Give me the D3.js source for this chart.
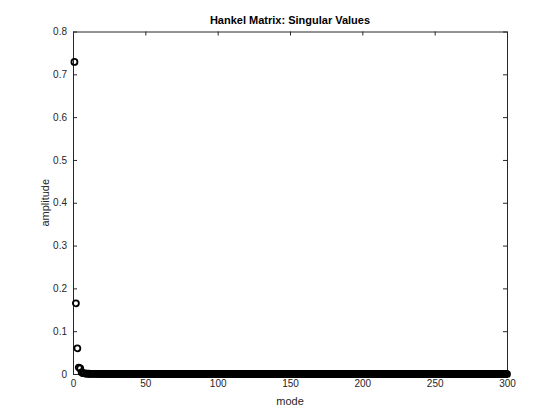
<!DOCTYPE html>
<html>
<head>
<meta charset="utf-8">
<script src="https://cdn.jsdelivr.net/npm/d3@7"></script>
<style>
  body { margin: 0; background: #fff; }
  text { font-family: "Liberation Sans", Arial, sans-serif; }
</style>
</head>
<body>
<div id="chart"></div>
<script>
// singular values of the Hankel matrix, one per mode (1..300)
const leadValues = [0.729, 0.165, 0.060, 0.015, 0.013, 0.004, 0.002, 0.0015, 0.001, 0.0008];
const tailValues = [
  0.0006, 0.0005, 0.0004, 0.0004, 0.0003, 0.0003, 0.0003, 0.0002, 0.0002, 0.0002,
  0.0002, 0.0002, 0.0001, 0.0001, 0.0001, 0.0001, 0.0001, 0.0001, 0.0001, 0.0001,
  0.0001, 0.0001, 0.0001, 0.0001, 0.0001, 0.0001, 0.0001, 0.0001, 0.0001, 0.0001,
  0.0001, 0.0001, 0.0001, 0.0001, 0.0001, 0.0001, 0.0001, 0.0001, 0.0001, 0.0001,
  0, 0, 0, 0, 0, 0, 0, 0, 0, 0, 0, 0, 0, 0, 0, 0, 0, 0, 0, 0,
  0, 0, 0, 0, 0, 0, 0, 0, 0, 0, 0, 0, 0, 0, 0, 0, 0, 0, 0, 0,
  0, 0, 0, 0, 0, 0, 0, 0, 0, 0, 0, 0, 0, 0, 0, 0, 0, 0, 0, 0,
  0, 0, 0, 0, 0, 0, 0, 0, 0, 0, 0, 0, 0, 0, 0, 0, 0, 0, 0, 0,
  0, 0, 0, 0, 0, 0, 0, 0, 0, 0, 0, 0, 0, 0, 0, 0, 0, 0, 0, 0,
  0, 0, 0, 0, 0, 0, 0, 0, 0, 0, 0, 0, 0, 0, 0, 0, 0, 0, 0, 0,
  0, 0, 0, 0, 0, 0, 0, 0, 0, 0, 0, 0, 0, 0, 0, 0, 0, 0, 0, 0,
  0, 0, 0, 0, 0, 0, 0, 0, 0, 0, 0, 0, 0, 0, 0, 0, 0, 0, 0, 0,
  0, 0, 0, 0, 0, 0, 0, 0, 0, 0, 0, 0, 0, 0, 0, 0, 0, 0, 0, 0,
  0, 0, 0, 0, 0, 0, 0, 0, 0, 0, 0, 0, 0, 0, 0, 0, 0, 0, 0, 0,
  0, 0, 0, 0, 0, 0, 0, 0, 0, 0, 0, 0, 0, 0, 0, 0, 0, 0, 0, 0,
  0, 0, 0, 0, 0, 0, 0, 0, 0, 0, 0, 0, 0, 0, 0, 0, 0, 0, 0, 0,
  0, 0, 0, 0, 0, 0, 0, 0, 0, 0
];
const singularValues = leadValues.concat(tailValues);
const xTicks = [0, 50, 100, 150, 200, 250, 300];
const yTicks = [0, 0.1, 0.2, 0.3, 0.4, 0.5, 0.6, 0.7, 0.8];

const width = 560, height = 420;
const margin = {top: 31.5, right: 53, bottom: 46, left: 73};
const w = width - margin.left - margin.right;
const h = height - margin.top - margin.bottom;

const svg = d3.select("#chart").append("svg")
    .attr("width", width)
    .attr("height", height);

const g = svg.append("g")
    .attr("transform", `translate(${margin.left},${margin.top})`);

const x = d3.scaleLinear().domain([0, 300]).range([0, w]);
const y = d3.scaleLinear().domain([0, 0.8]).range([h, 0]);

const axisColor = "#262626";

// box with ticks on all four sides (inward)
const axBottom = g.append("g").attr("transform", `translate(0,${h})`)
    .call(d3.axisBottom(x).tickValues(xTicks).tickSizeInner(-4).tickSizeOuter(0).tickPadding(6));
const axTop = g.append("g")
    .call(d3.axisTop(x).tickValues(xTicks).tickSizeInner(-4).tickSizeOuter(0).tickFormat(""));
const axLeft = g.append("g")
    .call(d3.axisLeft(y).tickValues(yTicks).tickSizeInner(-4).tickSizeOuter(0).tickPadding(6)
        .tickFormat(d => d3.format("")(+d.toFixed(1))));
const axRight = g.append("g").attr("transform", `translate(${w},0)`)
    .call(d3.axisRight(y).tickValues(yTicks).tickSizeInner(-4).tickSizeOuter(0).tickFormat(""));

[axBottom, axTop, axLeft, axRight].forEach(a => {
    a.selectAll("path, line").attr("stroke", axisColor).attr("stroke-width", 1);
    a.selectAll("text").attr("fill", axisColor).style("font-size", "10px");
});

// points
g.append("g").selectAll("circle")
    .data(singularValues)
    .join("circle")
    .attr("cx", (d, i) => x(i + 1))
    .attr("cy", d => y(d))
    .attr("r", 3)
    .attr("fill", "none")
    .attr("stroke", "#000")
    .attr("stroke-width", 1.8);

// labels
svg.append("text")
    .attr("x", margin.left + w / 2)
    .attr("y", 24)
    .attr("text-anchor", "middle")
    .attr("font-weight", "bold")
    .style("font-size", "11px")
    .attr("fill", "#000")
    .text("Hankel Matrix: Singular Values");

svg.append("text")
    .attr("x", margin.left + w / 2)
    .attr("y", 405)
    .attr("text-anchor", "middle")
    .style("font-size", "11px")
    .attr("fill", axisColor)
    .text("mode");

svg.append("text")
    .attr("transform", `translate(49,${margin.top + h / 2}) rotate(-90)`)
    .attr("text-anchor", "middle")
    .style("font-size", "11px")
    .attr("fill", axisColor)
    .text("amplitude");
</script>
</body>
</html>
